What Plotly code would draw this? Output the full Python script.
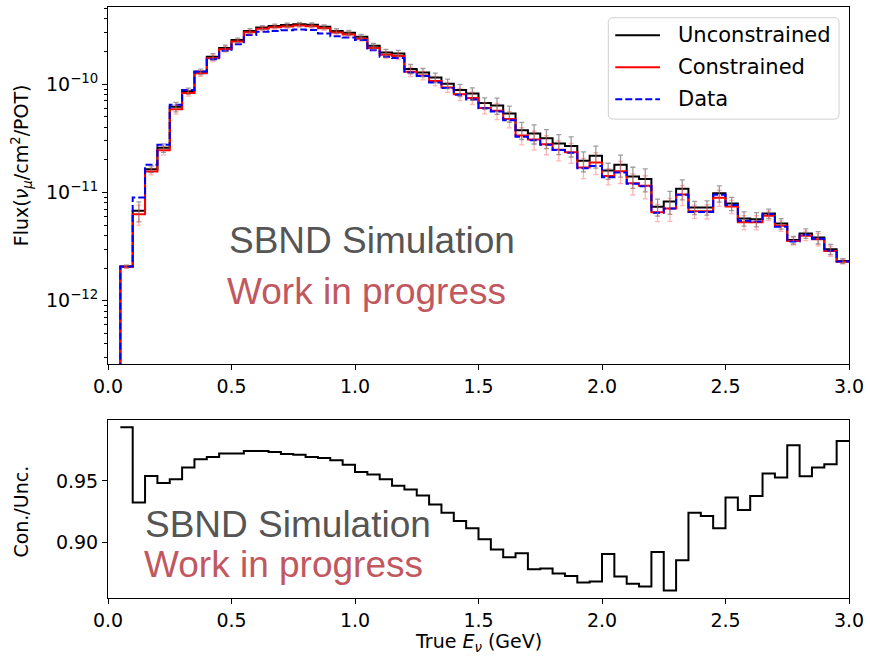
import plotly.graph_objects as go

# ---------------------------------------------------------------------------
# Binning: true neutrino energy, 0.05 GeV bins from 0 to 3 GeV
# ---------------------------------------------------------------------------
bin_width = 0.05
n_bins = 60
edges = [round(i * bin_width, 2) for i in range(n_bins + 1)]
centers = [round((edges[i] + edges[i + 1]) / 2, 3) for i in range(n_bins)]

# nu_mu flux per bin (nu/cm^2/POT), unconstrained prediction
unconstrained = [
    0.0, 2.07e-12, 6.76e-12, 1.64e-11, 2.58e-11, 6.17e-11, 8.61e-11, 1.30e-10, 1.79e-10, 2.16e-10,
    2.55e-10, 3.10e-10, 3.33e-10, 3.45e-10, 3.51e-10, 3.58e-10, 3.53e-10, 3.38e-10, 3.10e-10, 2.98e-10,
    2.74e-10, 2.26e-10, 1.96e-10, 1.92e-10, 1.38e-10, 1.28e-10, 1.15e-10, 1.01e-10, 8.81e-11, 8.19e-11,
    6.68e-11, 6.34e-11, 5.36e-11, 3.76e-11, 3.50e-11, 3.17e-11, 2.83e-11, 2.69e-11, 1.96e-11, 2.18e-11,
    1.59e-11, 1.80e-11, 1.40e-11, 1.33e-11, 7.36e-12, 8.24e-12, 1.08e-11, 7.26e-12, 7.26e-12, 9.82e-12,
    7.91e-12, 5.74e-12, 5.66e-12, 6.38e-12, 5.16e-12, 3.63e-12, 4.18e-12, 3.84e-12, 2.99e-12, 2.33e-12,
]

# Constrained / unconstrained ratio per bin (first bin is empty)
con_over_unc = [
    None, 0.9935, 0.9326, 0.9540, 0.9484, 0.9514, 0.9608, 0.9675, 0.9694, 0.9723,
    0.9723, 0.9742, 0.9742, 0.9734, 0.9718, 0.9712, 0.9694, 0.9685, 0.9667, 0.9632,
    0.9573, 0.9552, 0.9514, 0.9460, 0.9431, 0.9382, 0.9310, 0.9242, 0.9175, 0.9116,
    0.9027, 0.8944, 0.8882, 0.8914, 0.8785, 0.8790, 0.8750, 0.8731, 0.8678, 0.8686,
    0.8909, 0.8726, 0.8667, 0.8645, 0.8925, 0.8613, 0.8858, 0.9242, 0.9215, 0.9116,
    0.9366, 0.9264, 0.9377, 0.9560, 0.9527, 0.9788, 0.9538, 0.9608, 0.9635, 0.9823,
]

# Flux extracted from data
data_flux = [
    0.0, 2.07e-12, 8.97e-12, 1.80e-11, 2.75e-11, 6.44e-11, 8.81e-11, 1.31e-10, 1.70e-10, 2.03e-10,
    2.34e-10, 2.85e-10, 3.04e-10, 3.10e-10, 3.15e-10, 3.19e-10, 3.17e-10, 2.93e-10, 2.77e-10, 2.69e-10,
    2.55e-10, 2.06e-10, 1.79e-10, 1.74e-10, 1.28e-10, 1.19e-10, 1.035e-10, 9.19e-11, 7.96e-11, 7.21e-11,
    6.00e-11, 5.58e-11, 4.65e-11, 3.26e-11, 3.04e-11, 2.75e-11, 2.46e-11, 2.33e-11, 1.67e-11, 1.75e-11,
    1.38e-11, 1.53e-11, 1.20e-11, 1.14e-11, 6.50e-12, 7.10e-12, 9.50e-12, 6.60e-12, 6.60e-12, 9.50e-12,
    7.67e-12, 5.47e-12, 5.39e-12, 6.31e-12, 4.81e-12, 3.52e-12, 4.06e-12, 3.73e-12, 2.89e-12, 2.30e-12,
]

# Relative flux uncertainty per bin
rel_unc = [
    0.00, 0.03, 0.21, 0.07, 0.09, 0.10, 0.065, 0.06, 0.07, 0.06,
    0.045, 0.05, 0.04, 0.04, 0.04, 0.04, 0.04, 0.04, 0.05, 0.05,
    0.05, 0.05, 0.07, 0.07, 0.10, 0.09, 0.10, 0.10, 0.13, 0.13,
    0.12, 0.17, 0.17, 0.18, 0.20, 0.20, 0.21, 0.21, 0.21, 0.23,
    0.17, 0.23, 0.22, 0.24, 0.18, 0.24, 0.21, 0.14, 0.15, 0.17,
    0.14, 0.15, 0.15, 0.10, 0.11, 0.08, 0.10, 0.13, 0.11, 0.05,
]

flux_ticks = [1e-12, 1e-11, 1e-10]
flux_ticktext = ["10<sup>−12</sup>", "10<sup>−11</sup>", "10<sup>−10</sup>"]
energy_ticks = [0.0, 0.5, 1.0, 1.5, 2.0, 2.5, 3.0]
ratio_ticks = [0.90, 0.95]

legend_labels = ["Unconstrained", "Constrained", "Data"]

# Constrained flux = unconstrained flux scaled by the ratio
constrained = [u * r if r is not None else 0.0 for u, r in zip(unconstrained, con_over_unc)]

# ---------------------------------------------------------------------------
# Layout geometry (pixels in a 870x657 canvas)
# ---------------------------------------------------------------------------
W, H = 870, 657
ML, MR, MT, MB = 108, 17, 6, 59
PW, PH = W - ML - MR, H - MT - MB


def px_x(x):
    return (x - ML) / PW


def px_y(y):
    return (H - MB - y) / PH


top_domain = [px_y(364), 1.0]
bot_domain = [0.0, px_y(419.5)]

FLOOR = 1e-14  # empty bins are drawn below the visible flux range


def step_xy(values):
    y = [v if (v is not None and v > 0) else FLOOR for v in values]
    return edges, y + [y[-1]]


fig = go.Figure()

# Step histograms
ux, uy = step_xy(unconstrained)
cx, cy = step_xy(constrained)
dx, dy = step_xy(data_flux)
fig.add_trace(go.Scatter(x=ux, y=uy, mode="lines", name=legend_labels[0],
                         line=dict(color="black", width=2, shape="hv"),
                         xaxis="x", yaxis="y", showlegend=False))
fig.add_trace(go.Scatter(x=cx, y=cy, mode="lines", name=legend_labels[1],
                         line=dict(color="red", width=2, shape="hv"),
                         xaxis="x", yaxis="y", showlegend=False))
fig.add_trace(go.Scatter(x=dx, y=dy, mode="lines", name=legend_labels[2],
                         line=dict(color="blue", width=2, shape="hv", dash="7px,3px"),
                         xaxis="x", yaxis="y", showlegend=False))

# Uncertainty bars at bin centres
fig.add_trace(go.Scatter(
    x=centers[1:], y=unconstrained[1:], mode="markers",
    marker=dict(size=1, color="rgba(0,0,0,0)"),
    error_y=dict(type="data", array=[u * e for u, e in zip(unconstrained[1:], rel_unc[1:])],
                 color="rgba(105,105,105,0.65)", thickness=1.3, width=2.5),
    xaxis="x", yaxis="y", showlegend=False, hoverinfo="skip"))
fig.add_trace(go.Scatter(
    x=centers[1:], y=constrained[1:], mode="markers",
    marker=dict(size=1, color="rgba(0,0,0,0)"),
    error_y=dict(type="data", array=[c * e for c, e in zip(constrained[1:], rel_unc[1:])],
                 color="rgba(255,60,60,0.38)", thickness=1.3, width=2.5),
    xaxis="x", yaxis="y", showlegend=False, hoverinfo="skip"))

# Ratio panel
rx = edges[1:]
ry = con_over_unc[1:] + [con_over_unc[-1]]
fig.add_trace(go.Scatter(x=rx, y=ry, mode="lines",
                         line=dict(color="black", width=2, shape="hv"),
                         xaxis="x2", yaxis="y2", showlegend=False))

axis_font = dict(family="DejaVu Sans", size=19, color="black")
frame = dict(showline=True, linecolor="black", linewidth=1, mirror=True,
             ticks="outside", ticklen=5, tickwidth=1, tickcolor="black",
             showgrid=False, zeroline=False, tickfont=axis_font)

minor_flux = [k * 10.0 ** e for e in range(-13, -9) for k in range(2, 10)]

fig.update_layout(
    width=W, height=H,
    margin=dict(l=ML, r=MR, t=MT, b=MB, pad=0),
    paper_bgcolor="white", plot_bgcolor="white",
    xaxis=dict(domain=[0, 1], anchor="y", range=[0, 3], tickvals=energy_ticks,
               tickformat=".1f", **frame),
    yaxis=dict(domain=top_domain, anchor="x", type="log", range=[-12.588, -9.2876],
               tickvals=flux_ticks, ticktext=flux_ticktext,
               minor=dict(tickvals=minor_flux, ticks="outside", ticklen=3,
                          tickcolor="black", showgrid=False),
               **frame),
    xaxis2=dict(domain=[0, 1], anchor="y2", range=[0, 3], tickvals=energy_ticks,
                tickformat=".1f", **frame),
    yaxis2=dict(domain=bot_domain, anchor="x2", range=[0.8552, 0.9995],
                tickvals=ratio_ticks, tickformat=".2f", **frame),
)

annotations = []
# Axis titles
annotations.append(dict(text="Flux(<i>ν</i><sub><i>μ</i></sub>/cm<sup>2</sup>/POT)",
                        xref="paper", yref="paper", x=px_x(21), y=px_y(164),
                        textangle=-90, showarrow=False, xanchor="center", yanchor="middle",
                        font=axis_font))
annotations.append(dict(text="Con./Unc.", xref="paper", yref="paper",
                        x=px_x(21), y=px_y(511), textangle=-90, showarrow=False,
                        xanchor="center", yanchor="middle", font=axis_font))
annotations.append(dict(text="True <i>E</i><sub><i>ν</i></sub> (GeV)", xref="paper", yref="paper",
                        x=0.5, y=px_y(643), showarrow=False,
                        xanchor="center", yanchor="middle", font=axis_font))

# Watermarks
wm_font = "Liberation Sans, Arial, sans-serif"
for label, color, xp, yp in [
    ("SBND Simulation", "#555555", 228, 239.7),
    ("Work in progress", "#c2585f", 226, 290.7),
    ("SBND Simulation", "#555555", 143, 524.3),
    ("Work in progress", "#c2585f", 142, 564.0),
]:
    annotations.append(dict(text=label, xref="paper", yref="paper", x=px_x(xp), y=px_y(yp),
                            showarrow=False, xanchor="left", yanchor="middle",
                            font=dict(family=wm_font, size=37, color=color)))

# Legend
shapes = []
lx0, lx1, ly0, ly1 = px_x(611), px_x(843), px_y(118.3), px_y(16.7)
rxp, ryp = 5 / PW, 5 / PH
legend_box = (f"M{lx0 + rxp},{ly0} L{lx1 - rxp},{ly0} Q{lx1},{ly0} {lx1},{ly0 + ryp} "
              f"L{lx1},{ly1 - ryp} Q{lx1},{ly1} {lx1 - rxp},{ly1} "
              f"L{lx0 + rxp},{ly1} Q{lx0},{ly1} {lx0},{ly1 - ryp} "
              f"L{lx0},{ly0 + ryp} Q{lx0},{ly0} {lx0 + rxp},{ly0} Z")
shapes.append(dict(type="path", path=legend_box, xref="paper", yref="paper",
                   line=dict(color="#d0d0d0", width=1), fillcolor="rgba(255,255,255,0.85)",
                   layer="above"))
legend_styles = [dict(color="black", width=2), dict(color="red", width=2),
                 dict(color="blue", width=2, dash="7px,3px")]
for i, (label, style) in enumerate(zip(legend_labels, legend_styles)):
    yrow = px_y(34.3 + 32.0 * i)
    shapes.append(dict(type="line", xref="paper", yref="paper",
                       x0=px_x(618), x1=px_x(663), y0=yrow, y1=yrow, line=style, layer="above"))
    annotations.append(dict(text=label, xref="paper", yref="paper", x=px_x(679), y=yrow,
                            showarrow=False, xanchor="left", yanchor="middle",
                            font=dict(family="DejaVu Sans", size=21, color="black")))

fig.update_layout(annotations=annotations, shapes=shapes)

fig.write_html("out.html")
